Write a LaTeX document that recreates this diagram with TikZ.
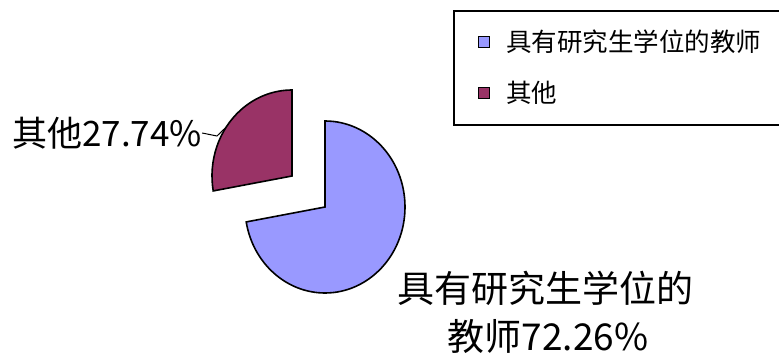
\documentclass[tikz,border=0pt]{standalone}
\usepackage{fontspec}
\setmainfont{Noto Sans CJK SC}
\usetikzlibrary{calc}
\definecolor{sliceblue}{HTML}{9999FF}
\definecolor{slicered}{HTML}{993366}
\begin{document}
\begin{tikzpicture}[x=1pt,y=-1pt,
  slice/.style={draw=black,line width=1.6pt,line join=miter},
  biglabel/.style={inner sep=0pt,font=\fontsize{37}{42}\selectfont},
  sidelabel/.style={inner sep=0pt,font=\fontsize{35}{40}\selectfont},
  legtext/.style={inner sep=0pt,anchor=west,font=\fontsize{25.5}{28}\selectfont},
  legkey/.style={draw=black,line width=1pt,minimum size=10.5pt,inner sep=0pt}]
\useasboundingbox (0,0) rectangle (779,358);
\fill[white] (0,0) rectangle (779,358);
% pie slices
\coordinate (cb) at (325,207);
\coordinate (cr) at (292,176);
\draw[slice,fill=sliceblue] (cb) -- ++(0,-86) arc[start angle=-90,end angle=170,x radius=80,y radius=86] -- cycle;
\draw[slice,fill=slicered] (cr) -- ++(170:80 and 86) arc[start angle=170,end angle=270,x radius=80,y radius=86] -- cycle;
\coordinate (redpt) at ($(cr)+(214.7:80 and 86)$);
% labels
\node[sidelabel,anchor=west] (lother) at (12,133) {其他27.74\%};
\draw[line width=1pt] (lother.east) -- (217,136) -- (redpt);
\node[biglabel] (lblue1) at (545,288) {具有研究生学位的};
\node[biglabel] (lblue2) at (548,336) {教师72.26\%};
% legend
\draw[line width=1.6pt] (780,11) -- (454,11) -- (454,125) -- (780,125);
\node[legkey,fill=sliceblue] (kblue) at (484,42) {};
\node[legtext] (tblue) at (506,42) {具有研究生学位的教师};
\node[legkey,fill=slicered] (kred) at (484,93) {};
\node[legtext] (tred) at (506,93) {其他};
\end{tikzpicture}
\end{document}
